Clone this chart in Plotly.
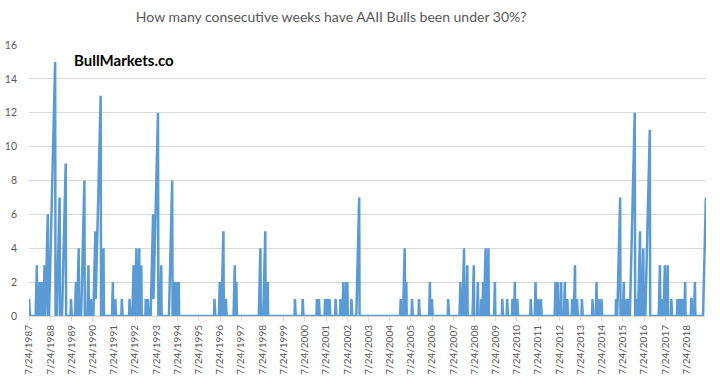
import plotly.graph_objects as go
import pandas as pd
import numpy as np

# ---- data -------------------------------------------------------------
start_date = "1987-07-24"
start_year_frac = 1987 + 204 / 365.25   # 7/24/1987 as decimal year

# each run of consecutive weeks: decimal year at which the run peaked, and its length
run_peak_years = [
    1987.56, 1987.92, 1988.06, 1988.15, 1988.21, 1988.29, 1988.44, 1988.79,
    1988.99, 1989.29, 1989.53, 1989.77, 1989.90, 1990.17, 1990.36, 1990.47,
    1990.68, 1990.93, 1991.07, 1991.50, 1991.62, 1991.92, 1992.29, 1992.49,
    1992.61, 1992.75, 1992.84, 1993.06, 1993.15, 1993.40, 1993.63, 1993.78,
    1994.31, 1994.43, 1994.49, 1994.55, 1994.61,
    1996.30, 1996.54, 1996.72, 1996.84, 1997.25, 1997.33,
    1998.46, 1998.70, 1998.81,
    2000.09, 2000.46, 2001.13, 2001.23, 2001.51, 2001.60, 2001.72,
    2002.00, 2002.24, 2002.38, 2002.50, 2002.57, 2002.75, 2003.13,
    2005.07, 2005.27, 2005.35, 2005.62, 2005.93, 2006.45, 2006.56,
    2007.32, 2007.90, 2008.06, 2008.22, 2008.53, 2008.72, 2008.87, 2008.96,
    2009.08, 2009.22, 2009.52, 2009.87, 2010.10, 2010.35, 2010.46, 2010.58,
    2011.20, 2011.44, 2011.56, 2011.68,
    2012.38, 2012.50, 2012.64, 2012.82, 2012.94,
    2013.16, 2013.29, 2013.40, 2013.63,
    2014.13, 2014.32, 2014.41, 2014.55,
    2015.24, 2015.42, 2015.53, 2015.59, 2015.73, 2015.83,
    2016.11, 2016.24, 2016.36, 2016.52, 2016.83,
    2017.31, 2017.40, 2017.53, 2017.67, 2017.84,
    2018.12, 2018.21, 2018.31, 2018.40, 2018.49, 2018.78, 2018.80, 2018.96,
    2019.46,
]
run_lengths = [
    1, 3, 2, 2, 1, 3, 6, 15,
    7, 9, 1, 2, 4, 8, 3, 1,
    5, 13, 4, 2, 1, 1, 1, 3,
    4, 4, 3, 1, 1, 6, 12, 3,
    8, 2, 2, 2, 2,
    1, 2, 5, 1, 3, 2,
    4, 5, 2,
    1, 1, 1, 1, 1, 1, 1,
    1, 1, 2, 2, 2, 1, 7,
    1, 4, 2, 1, 1, 2, 1,
    1, 2, 4, 3, 3, 2, 1, 2,
    4, 4, 2, 1, 1, 1, 2, 1,
    1, 2, 1, 1,
    2, 2, 2, 2, 1,
    1, 3, 1, 1,
    1, 2, 1, 1,
    1, 7, 1, 2, 1, 1,
    12, 1, 5, 4, 11,
    3, 1, 3, 3, 1,
    1, 1, 1, 1, 2, 1, 1, 2,
    7,
]

tick_years = list(range(1987, 2019))
tick_labels = [f"7/24/{y}" for y in tick_years]

# ---- build weekly counter series -------------------------------------
weeks_per_year = 365.25 / 7
peak_idx = [int(round((y - start_year_frac) * weeks_per_year)) for y in run_peak_years]
n_weeks = max(peak_idx) + 1
values = np.zeros(n_weeks, dtype=int)
for e, L in zip(peak_idx, run_lengths):
    for k in range(L):
        i = e - L + 1 + k
        if 0 <= i < n_weeks:
            values[i] = k + 1
dates = pd.date_range(start_date, periods=n_weeks, freq="7D")

# ---- figure ------------------------------------------------------------
fig = go.Figure()
fig.add_trace(go.Scatter(
    x=dates, y=values, mode="lines",
    line=dict(color="#5B9BD5", width=2.5),
    hoverinfo="x+y", showlegend=False, cliponaxis=False,
))

gray = "#595959"
fig.update_layout(
    width=720, height=385,
    margin=dict(l=29, r=14, t=45, b=69),
    paper_bgcolor="white", plot_bgcolor="white",
    font=dict(family="Lato, 'Open Sans', sans-serif", color=gray),
    title=dict(
        text="How many consecutive weeks have AAII Bulls been under 30%?",
        x=0.46, xanchor="center", y=0.955, yanchor="middle",
        font=dict(size=14, color=gray, family="Lato, sans-serif"),
    ),
    xaxis=dict(
        type="date",
        range=[dates[0] - pd.Timedelta(days=2), dates[-1] + pd.Timedelta(days=2)],
        tickvals=[f"{y}-07-24" for y in tick_years],
        ticktext=tick_labels,
        tickangle=-90,
        tickfont=dict(size=10, color=gray),
        ticks="outside", ticklen=4, tickcolor="#D9D9D9",
        showline=True, linecolor="#D9D9D9", linewidth=1,
        showgrid=False, zeroline=False, automargin=False,
    ),
    yaxis=dict(
        range=[0, 16], dtick=2,
        tickfont=dict(size=10.5, color=gray),
        showgrid=True, gridcolor="#D9D9D9", gridwidth=1,
        zeroline=False, showline=False,
        ticklabelstandoff=11, automargin=False,
    ),
    annotations=[dict(
        text="<b>BullMarkets.co</b>",
        xref="paper", yref="paper", x=0.063, y=0.945,
        xanchor="left", yanchor="middle", showarrow=False,
        font=dict(size=15, color="black", family="Lato, sans-serif"),
    )],
)

fig.write_html(
    "out.html",
    config={"displayModeBar": False},
    post_script="document.body.style.margin='0';document.body.style.padding='0';document.body.style.overflow='hidden';",
)
